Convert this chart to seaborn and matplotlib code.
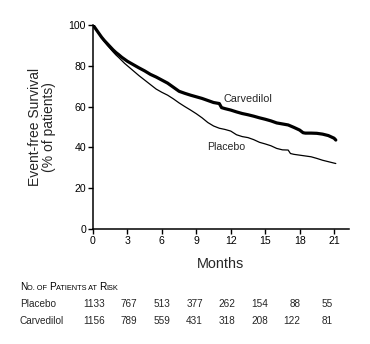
import matplotlib
matplotlib.use("Agg")
import matplotlib.pyplot as plt
from matplotlib.offsetbox import TextArea, HPacker, AnnotationBbox
import seaborn as sns
import pandas as pd

# Kaplan-Meier event-free survival estimates (months, % of patients)
months_carvedilol = [0, 0.25, 0.5, 0.75, 1, 1.25, 1.5, 1.75, 2, 2.25, 2.5, 2.75,
                     3, 3.5, 4, 4.5, 5, 5.5, 6, 6.5, 7, 7.5, 8, 8.5, 9, 9.5, 10,
                     10.5, 11, 11.2, 11.5, 12, 12.5, 13, 13.5, 14, 14.5, 15,
                     15.5, 16, 16.5, 17, 17.5, 18, 18.3, 18.5, 19, 19.5, 20,
                     20.5, 21, 21.15]
carvedilol = [100, 98, 96, 94, 92.3, 90.8, 89.3, 87.8, 86.5, 85.4, 84.2, 83.2,
              82.2, 80.6, 79, 77.5, 75.8, 74.5, 73, 71.5, 69.5, 67.5, 66.5,
              65.6, 64.8, 64, 63, 62, 61.5, 59.5, 59, 58.3, 57.4, 56.6, 56,
              55.3, 54.5, 53.8, 53, 52, 51.5, 51, 49.8, 48.5, 47.2, 47, 47,
              46.9, 46.5, 45.8, 44.5, 43.6]

months_placebo = [0, 0.25, 0.5, 0.75, 1, 1.25, 1.5, 1.75, 2, 2.25, 2.5, 2.75,
                  3, 3.5, 4, 4.5, 5, 5.5, 6, 6.5, 7, 7.5, 8, 8.5, 9, 9.5, 10,
                  10.5, 11, 11.5, 12, 12.5, 13, 13.5, 14, 14.5, 15, 15.5, 16,
                  16.5, 17, 17.2, 17.5, 18, 18.5, 19, 19.5, 20, 20.5, 21, 21.15]
placebo = [100, 98, 95.8, 93.7, 91.8, 90, 88.4, 86.8, 85.3, 84, 82.6, 81.2,
           80, 77.6, 75.2, 73, 70.8, 68.6, 67, 65.6, 63.8, 61.8, 60, 58.3,
           56.5, 54.5, 52.2, 50.5, 49.4, 48.8, 48, 46.2, 45.3, 44.8, 43.8,
           42.5, 41.7, 40.8, 39.5, 38.8, 38.7, 37, 36.6, 36.2, 35.8, 35.4,
           34.6, 33.7, 33, 32.3, 32.1]

# Number of patients at risk
risk_groups = ["Placebo", "Carvedilol"]
risk_placebo = [1133, 767, 513, 377, 262, 154, 88, 55]
risk_carvedilol = [1156, 789, 559, 431, 318, 208, 122, 81]

x_ticks = [0, 3, 6, 9, 12, 15, 18, 21]
y_ticks = [0, 20, 40, 60, 80, 100]

sns.set_style("ticks")
plt.rcParams["font.family"] = ["Liberation Sans", "DejaVu Sans"]

df = pd.concat([
    pd.DataFrame({"Months": months_placebo, "Survival": placebo, "Group": "Placebo"}),
    pd.DataFrame({"Months": months_carvedilol, "Survival": carvedilol, "Group": "Carvedilol"}),
], ignore_index=True)

fig = plt.figure(figsize=(3.70, 3.44), dpi=100)
ax = fig.add_axes([93 / 370, 1 - 229 / 344, 256 / 370, 204 / 344])

sns.lineplot(data=df[df.Group == "Placebo"], x="Months", y="Survival",
             color="black", linewidth=0.9, estimator=None, ax=ax)
sns.lineplot(data=df[df.Group == "Carvedilol"], x="Months", y="Survival",
             color="black", linewidth=2.3, estimator=None, ax=ax)

ax.set_xlim(0, 22.3)
ax.set_ylim(0, 100)
ax.set_xticks(x_ticks)
ax.set_yticks(y_ticks)
ax.tick_params(axis="both", labelsize=7.6, length=3.5, width=1.0, pad=1.5,
               colors="black")
for side in ("top", "right"):
    ax.spines[side].set_visible(False)
for side in ("left", "bottom"):
    ax.spines[side].set_linewidth(1.1)
    ax.spines[side].set_color("black")

ax.set_xlabel("Months", fontsize=10.4, labelpad=8)
ax.set_ylabel("Event-free Survival\n(% of patients)", fontsize=10, labelpad=9,
              linespacing=1.05)

ax.text(11.4, 63.5, "Carvedilol", fontsize=7.8, va="center", ha="left")
ax.text(9.9, 40.3, "Placebo", fontsize=7.6, va="center", ha="left")

# Small-caps heading for the at-risk table
big, small = 7.2, 5.3
parts = [("N", big), ("O. OF ", small), ("P", big), ("ATIENTS AT ", small),
         ("R", big), ("ISK", small)]
boxes = [TextArea(t, textprops=dict(fontsize=s, color="black",
                                     family=["Liberation Sans", "DejaVu Sans"]))
         for t, s in parts]
header = HPacker(children=boxes, align="baseline", pad=0, sep=0)
ab = AnnotationBbox(header, (20 / 370, 1 - 287 / 344), xycoords="figure fraction",
                    box_alignment=(0, 0.5), frameon=False, pad=0)
fig.add_artist(ab)

row_y = [1 - 304 / 344, 1 - 321 / 344]
col_right = [105 + 32.6 * i for i in range(len(x_ticks))]
for name, counts, yy in zip(risk_groups, [risk_placebo, risk_carvedilol], row_y):
    fig.text(20 / 370, yy, name, fontsize=7.2, va="center", ha="left")
    for xr, n in zip(col_right, counts):
        fig.text(xr / 370, yy, str(n), fontsize=7.2, va="center", ha="right")

fig.savefig("out.png", dpi=100)
